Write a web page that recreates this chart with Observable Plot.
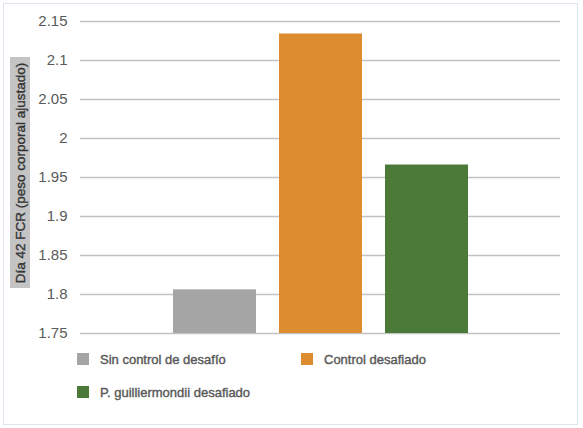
<!DOCTYPE html>
<html>
<head>
<meta charset="utf-8">
<script src="https://cdn.jsdelivr.net/npm/d3@7"></script>
<script src="https://cdn.jsdelivr.net/npm/@observablehq/plot@0.6"></script>
<style>
  html, body { margin: 0; padding: 0; background: #fff; }
  body { width: 583px; height: 428px; position: relative; overflow: hidden; font-family: "Liberation Sans", Arial, sans-serif; }
  #frame { position: absolute; left: 3px; top: 3px; width: 573px; height: 420px; border: 1.5px solid #dde4ee; box-sizing: content-box; }
  #chart { position: absolute; left: 0; top: 0; }
  #ylab { position: absolute; left: 10px; top: 57px; width: 20px; height: 231px; background: #c4c4c4; }
  #ylab span { position: absolute; left: 50%; top: 50%; transform: translate(-50%, -50%) rotate(-90deg); white-space: nowrap; font-size: 13.5px; color: #333; -webkit-text-stroke: 0.35px #333; }
  .leg { position: absolute; display: flex; align-items: center; font-size: 13px; color: #595959; white-space: nowrap; -webkit-text-stroke: 0.4px #595959; }
  .leg i { display: inline-block; width: 12px; height: 12px; margin-right: 11px; }
</style>
</head>
<body>
<div id="frame"></div>
<div id="chart"></div>
<div id="ylab"><span></span></div>
<div id="legend"></div>
<script>
const groups = ["Sin control de desafío", "Control desafiado", "P. guilliermondii desafiado"];
const values = [1.806, 2.134, 1.966];
const colors = ["#a5a5a5", "#dd8d2f", "#4b7a38"];
const yTicks = [1.75, 1.8, 1.85, 1.9, 1.95, 2, 2.05, 2.1, 2.15];
const yLabel = "Día 42 FCR (peso corporal ajustado)";
const yMin = 1.75, yMax = 2.15;

const data = groups.map((g, i) => ({group: g, value: values[i]}));

const plot = Plot.plot({
  width: 583,
  height: 345,
  marginLeft: 80,
  marginRight: 23,
  marginTop: 21,
  marginBottom: 12,
  style: {fontFamily: "Liberation Sans, Arial, sans-serif", background: "transparent"},
  x: {axis: null, domain: groups, range: [160, 480], paddingInner: 0.22, paddingOuter: 0.11},
  y: {domain: [yMin, yMax], axis: null},
  color: {domain: groups, range: colors},
  marks: [
    Plot.gridY(yTicks, {stroke: "#c2c2c2", strokeOpacity: 1, strokeWidth: 1.6}),
    Plot.axisY(yTicks, {tickSize: 0, tickPadding: 13, tickFormat: d => String(d), fill: "#5a5a5a", fontSize: 15, label: null}),
    Plot.barY(data, {x: "group", y1: () => yMin, y2: "value", fill: "group"})
  ]
});
document.getElementById("chart").appendChild(plot);
document.querySelector("#ylab span").textContent = yLabel;

const legPos = [[77, 353], [301, 353], [77, 386]];
const legend = document.getElementById("legend");
groups.forEach((g, i) => {
  const d = document.createElement("div");
  d.className = "leg";
  d.style.left = legPos[i][0] + "px";
  d.style.top = (legPos[i][1] - 2) + "px";
  d.style.height = "16px";
  const sq = document.createElement("i");
  sq.style.background = colors[i];
  d.appendChild(sq);
  d.appendChild(document.createTextNode(g));
  legend.appendChild(d);
});
</script>
</body>
</html>
